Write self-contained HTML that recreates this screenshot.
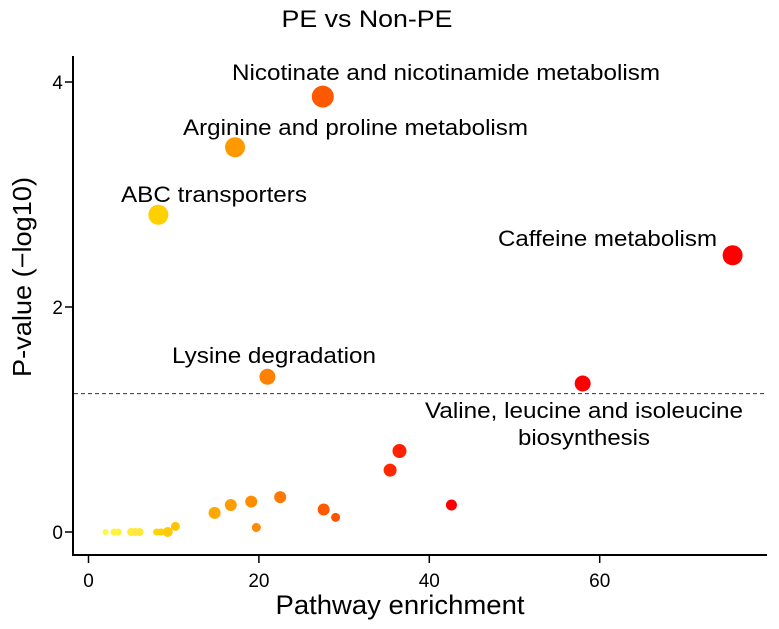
<!DOCTYPE html>
<html><head><meta charset="utf-8"><style>
html,body{margin:0;padding:0;background:#fff;}
svg{display:block;font-family:"Liberation Sans",Arial,sans-serif;}
</style></head><body>
<svg id="chart" width="779" height="629">
<text x="367" y="27" font-size="24" text-anchor="middle" textLength="171" lengthAdjust="spacingAndGlyphs">PE vs Non-PE</text>
<g id="axes"></g>
<g id="points"></g>
<g id="labels"></g>
<text x="400" y="614" font-size="27" text-anchor="middle" textLength="249" lengthAdjust="spacingAndGlyphs">Pathway enrichment</text>
<text transform="translate(31,277) rotate(-90)" font-size="26" text-anchor="middle" textLength="200" lengthAdjust="spacingAndGlyphs">P-value (−log10)</text>
</svg>
<script>
const xVals = [75.6, 27.5, 17.2, 8.2, 21, 58, 36.5, 35.4, 42.6, 22.5, 19.1, 16.7, 14.8, 27.6, 29, 19.7, 10.2, 9.3, 8.5, 8, 6, 5.5, 5, 3.5, 3, 2];
const yVals = [2.46, 3.87, 3.42, 2.82, 1.38, 1.32, 0.72, 0.55, 0.24, 0.31, 0.27, 0.24, 0.17, 0.2, 0.13, 0.04, 0.05, 0.0, 0.0, 0.0, 0.0, 0.0, 0.0, 0.0, 0.0, 0.0];
const sizes = [10, 11, 10, 10, 8, 8, 7, 6.5, 5.5, 6, 6, 6, 6, 6, 4.5, 4.5, 4.5, 5, 3.5, 3.5, 4, 4, 4, 3.5, 3.5, 3];
const names = ["Caffeine metabolism","Nicotinate and nicotinamide metabolism","Arginine and proline metabolism","ABC transporters","Lysine degradation","Valine, leucine and isoleucine biosynthesis"];
const xTicks = [0, 20, 40, 60];
const yTicks = [0, 2, 4];
const threshold = 1.23;

const NS = "http://www.w3.org/2000/svg";
const X = v => 88.5 + v * 8.52;
const Y = v => 532 - v * 112.5;
function mk(tag, attrs, parent){const e=document.createElementNS(NS,tag);for(const k in attrs)e.setAttribute(k,attrs[k]);parent.appendChild(e);return e;}
const axes=document.getElementById('axes'), pts=document.getElementById('points'), lab=document.getElementById('labels');

let l=mk('line',{x1:73,y1:56,x2:73,y2:556,stroke:'#000','stroke-width':2},axes);


l=mk('line',{x1:72,y1:555,x2:767,y2:555,stroke:'#000','stroke-width':2},axes);


xTicks.forEach(t=>{
  const tk=mk('line',{x1:X(t),y1:555,x2:X(t),y2:563,stroke:'#000','stroke-width':1.5},axes);
  
  
  const tx=mk('text',{x:X(t),y:587,'font-size':19,'text-anchor':'middle'},axes);
  tx.textContent=t;
  
  
});
yTicks.forEach(t=>{
  const tk=mk('line',{x1:65,y1:Y(t),x2:73,y2:Y(t),stroke:'#000','stroke-width':1.5},axes);
  
  
  const tx=mk('text',{x:63,y:Y(t)+7,'font-size':19,'text-anchor':'end'},axes);
  tx.textContent=t;
  
  
});
l=mk('line',{x1:74,y1:Y(threshold),x2:766,y2:Y(threshold),stroke:'#333','stroke-width':1,'stroke-dasharray':'4,3'},axes);



function color(x){
  const t=Math.min(1,Math.max(0,(x-2)/40));
  const hue=58-t*58;
  const light=x<7?62:50;
  return `hsl(${hue},100%,${light}%)`;
}
xVals.forEach((x,i)=>{
  const c=mk('circle',{cx:X(x),cy:Y(yVals[i]),r:sizes[i],fill:color(x)},pts);
  
  
});
const labelPos=[[498,246,219],[232,80,428],[183,135,345],[121,202,186],[172,363,204],[425,418,318]];
labelPos.forEach((p,i)=>{
  const t=mk('text',{x:p[0],y:p[1],'font-size':22,textLength:p[2],lengthAdjust:'spacingAndGlyphs'},lab);
  
  
  if(i===5){
    t.textContent='Valine, leucine and isoleucine';
    const t2=mk('text',{x:518,y:445,'font-size':22,textLength:132,lengthAdjust:'spacingAndGlyphs'},lab);
    t2.textContent='biosynthesis';
    
    
  } else t.textContent=names[i];
});
</script>
</body></html>
